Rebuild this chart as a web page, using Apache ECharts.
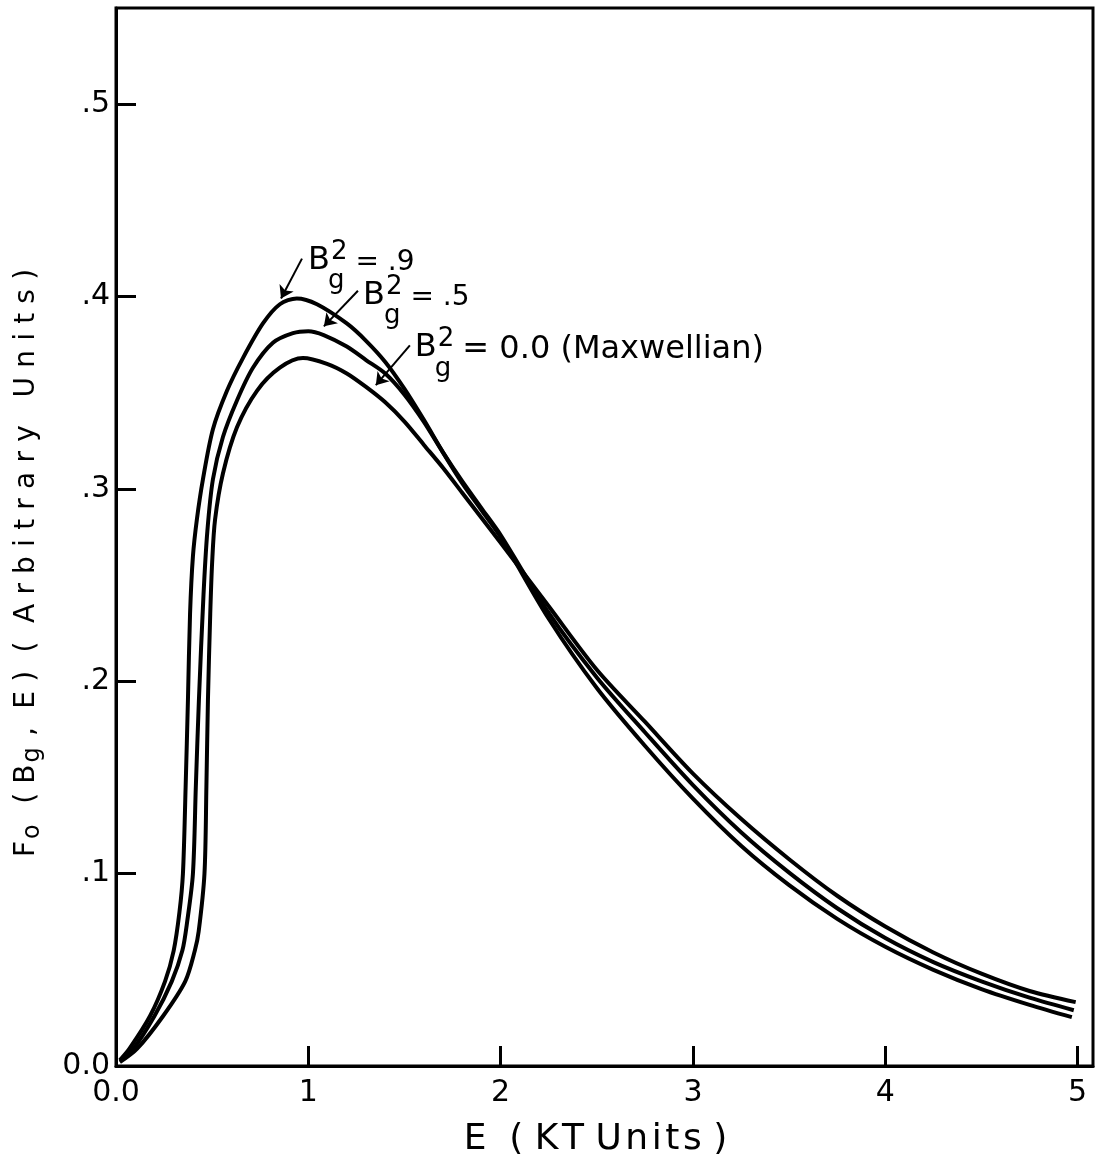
<!DOCTYPE html>
<html>
<head>
<meta charset="utf-8">
<script src="https://cdn.jsdelivr.net/npm/echarts@6/dist/echarts.min.js"></script>
<style>
  html, body { margin: 0; padding: 0; background: #fff; }
  #chart { width: 1101px; height: 1163px; }
</style>
</head>
<body>
<div id="chart"></div>
<script>
// ---- Data ----
const xTicks = [0, 1, 2, 3, 4, 5];
const xTickLabels = ['0.0', '1', '2', '3', '4', '5'];
const yTicks = [0, 0.1, 0.2, 0.3, 0.4, 0.5];
const yTickLabels = ['0.0', '.1', '.2', '.3', '.4', '.5'];

// B_g^2 = 0.9
const E09 = [0.02, 0.07, 0.177, 0.255, 0.30, 0.33, 0.348, 0.362, 0.374, 0.385, 0.40, 0.421, 0.452, 0.504, 0.577, 0.66, 0.764, 0.852, 0.94, 1.045, 1.2, 1.3, 1.4, 1.5, 1.6, 1.7, 1.8, 1.9, 2.0, 2.25, 2.5, 2.75, 3.0, 3.25, 3.5, 3.75, 4.0, 4.25, 4.5, 4.75, 4.97];
const F09 = [0.003, 0.009, 0.026, 0.044, 0.060, 0.080, 0.100, 0.145, 0.190, 0.235, 0.265, 0.2845, 0.305, 0.331, 0.351, 0.368, 0.386, 0.396, 0.399, 0.396, 0.386, 0.377, 0.366, 0.352, 0.336, 0.319, 0.303, 0.289, 0.275, 0.2325, 0.1965, 0.1665, 0.139, 0.1145, 0.094, 0.0765, 0.062, 0.050, 0.040, 0.0318, 0.0254];

// B_g^2 = 0.5
const E05 = [0.02, 0.09, 0.20, 0.29, 0.345, 0.37, 0.40, 0.415, 0.431, 0.455, 0.475, 0.504, 0.556, 0.629, 0.712, 0.816, 0.92, 1.0, 1.08, 1.2, 1.3, 1.4, 1.5, 1.6, 1.7, 1.8, 1.9, 2.0, 2.25, 2.5, 2.75, 3.0, 3.25, 3.5, 3.75, 4.0, 4.25, 4.5, 4.75, 4.98];
const F05 = [0.003, 0.009, 0.026, 0.044, 0.060, 0.075, 0.100, 0.145, 0.190, 0.245, 0.278, 0.305, 0.327, 0.346, 0.363, 0.376, 0.381, 0.382, 0.380, 0.374, 0.367, 0.360, 0.349, 0.335, 0.319, 0.304, 0.290, 0.276, 0.2355, 0.202, 0.1735, 0.146, 0.1215, 0.1005, 0.082, 0.0665, 0.054, 0.044, 0.0355, 0.029];

// B_g^2 = 0.0 (Maxwellian)
const E00 = [0.02, 0.11, 0.245, 0.36, 0.41, 0.43, 0.46, 0.47, 0.478, 0.49, 0.50, 0.515, 0.556, 0.629, 0.733, 0.852, 0.972, 1.097, 1.2, 1.3, 1.4, 1.5, 1.6, 1.7, 1.8, 1.9, 2.0, 2.25, 2.5, 2.75, 3.0, 3.25, 3.5, 3.75, 4.0, 4.25, 4.5, 4.75, 4.99];
const F00 = [0.002, 0.009, 0.026, 0.044, 0.060, 0.070, 0.100, 0.145, 0.190, 0.235, 0.262, 0.284, 0.308, 0.332, 0.351, 0.363, 0.368, 0.365, 0.360, 0.353, 0.345, 0.335, 0.323, 0.311, 0.298, 0.285, 0.272, 0.239, 0.206, 0.179, 0.152, 0.1285, 0.1075, 0.0885, 0.0725, 0.059, 0.048, 0.039, 0.0332];

const seriesNames = ['B_g^2 = .9', 'B_g^2 = .5', 'B_g^2 = 0.0 (Maxwellian)'];
const annotTexts = ['= .9', '= .5', '= 0.0 (Maxwellian)'];
// annotation anchors [E, F] (label start), subscript anchors, arrow start / tip
const annotAt = [[0.998, 0.4187], [1.284, 0.4005], [1.554, 0.3736]];
const subAt = [[1.102, 0.4078], [1.393, 0.3900], [1.658, 0.3622]];
const arrowFrom = [[0.967, 0.4197], [1.258, 0.4030], [1.528, 0.3746]];
const arrowTo = [[0.858, 0.3990], [1.081, 0.3845], [1.351, 0.3539]];

const FONT = 'DejaVu Sans';
const sp = (s, g) => s.split('').join(g);

function pairs(xs, ys) { return xs.map((x, i) => [x, ys[i]]); }
const curves = [pairs(E09, F09), pairs(E05, F05), pairs(E00, F00)];

const chart = echarts.init(document.getElementById('chart'));

const series = curves.map((d, i) => ({
  name: seriesNames[i],
  type: 'line',
  data: d,
  showSymbol: false,
  smooth: 0.3,
  lineStyle: { color: '#000', width: 4 },
  silent: true,
  markPoint: {
    symbol: 'circle', symbolSize: 0, silent: true,
    data: [
      {
        coord: annotAt[i],
        label: {
          show: true, position: [0, 0], align: 'left', verticalAlign: 'middle',
          formatter: '{b|B}{s|2}{t|' + annotTexts[i] + '}',
          rich: {
            b: { fontFamily: FONT, fontSize: 32, color: '#000' },
            s: { fontFamily: FONT, fontSize: 26, color: '#000', padding: [0, 0, 16, 1] },
            t: { fontFamily: FONT, fontSize: i === 2 ? 32 : 28, color: '#000', padding: [4, 0, 0, 8] }
          }
        }
      },
      {
        coord: subAt[i],
        label: {
          show: true, position: [0, 0], align: 'left', verticalAlign: 'middle',
          formatter: 'g', fontFamily: FONT, fontSize: 26, color: '#000'
        }
      }
    ]
  },
  markLine: {
    silent: true,
    symbol: ['none', 'arrow'],
    symbolSize: 12,
    label: { show: false },
    lineStyle: { color: '#000', width: 2, type: 'solid', curveness: 0.35 },
    data: [[{ coord: arrowFrom[i] }, { coord: arrowTo[i] }]]
  }
}));

const G = '\u2004';
const yName = '{n|F}{sub|o}{n|' + G + G + '(' + G + 'B}{sub|g}{n|' + G + ',' + G + G + 'E' + G + ')' + G + G + '(' + G + G + sp('Arbitrary', G) + G + G + G + sp('Units', G) + G + ')}';
const xName = 'E' + '  ' + '(' + ' ' + sp('KT', '\u200A') + ' ' + sp('Units', '\u200A') + ' ' + ')';

chart.setOption({
  animation: false,
  backgroundColor: '#fff',
  grid: { left: 116, right: 8, top: 8, bottom: 95, show: true, borderColor: '#000', borderWidth: 3, backgroundColor: 'transparent' },
  xAxis: {
    type: 'value', min: 0, max: 5.08, interval: 1,
    name: xName, nameLocation: 'middle', nameGap: 56,
    nameTextStyle: { fontFamily: FONT, fontSize: 36, color: '#000', padding: [0, 18, 0, 0] },
    axisLine: { show: true, lineStyle: { color: '#000', width: 3 } },
    axisTick: { show: true, inside: true, length: 20, customValues: xTicks, lineStyle: { color: '#000', width: 3 } },
    splitLine: { show: false },
    axisLabel: {
      fontFamily: FONT, fontSize: 30, color: '#000', margin: 12,
      customValues: xTicks,
      formatter: v => { const k = xTicks.indexOf(Math.round(v * 1000) / 1000); return k >= 0 ? xTickLabels[k] : ''; }
    }
  },
  yAxis: {
    type: 'value', min: 0, max: 0.55, interval: 0.1,
    name: yName,
    nameLocation: 'middle', nameGap: 71,
    nameTextStyle: {
      fontFamily: FONT, fontSize: 28, color: '#000', padding: [0, 52, 0, 0],
      rich: {
        n: { fontFamily: FONT, fontSize: 28, color: '#000' },
        sub: { fontFamily: FONT, fontSize: 24, color: '#000', padding: [12, 2, 0, 2] }
      }
    },
    axisLine: { show: true, lineStyle: { color: '#000', width: 3 } },
    axisTick: { show: true, inside: true, length: 20, customValues: yTicks, lineStyle: { color: '#000', width: 3 } },
    splitLine: { show: false },
    axisLabel: {
      fontFamily: FONT, fontSize: 30, color: '#000', margin: 6,
      customValues: yTicks,
      formatter: v => { const k = yTicks.findIndex(t => Math.abs(t - v) < 1e-6); return k >= 0 ? yTickLabels[k] : ''; }
    }
  },
  series: series
});
</script>
</body>
</html>
